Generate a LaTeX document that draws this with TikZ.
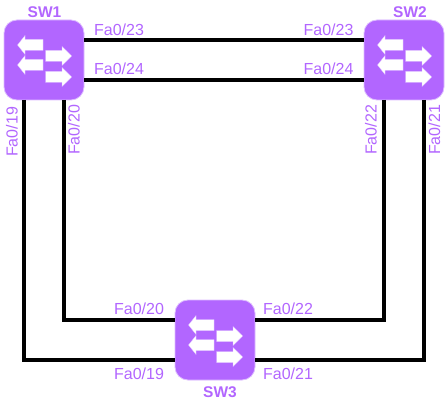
\documentclass[tikz,border=0pt]{standalone}
\usepackage{fontspec}
\setmainfont{Liberation Sans}
\definecolor{swpurple}{HTML}{B266FF}
\definecolor{swedge}{HTML}{DDBBFF}
\tikzset{
  x=1pt,y=1pt,
  switchbox/.style={draw=swedge,line width=0.8pt,fill=swpurple,rounded corners=13pt,minimum width=80pt,minimum height=80pt,inner sep=0pt,outer sep=0pt},
  link/.style={draw=black,line width=4pt},
  port/.style={text=swpurple,font=\fontsize{16}{16}\selectfont,inner sep=0pt},
  vport/.style={port,rotate=90},
  swname/.style={text=swpurple,font=\fontsize{15.5}{15.5}\selectfont\bfseries,inner sep=0pt},
  arrowL/.pic={\fill[white,draw=swedge,line width=0.25pt] (-26.5,0)--(-19,9.5)--(-19,5.5)--(-1,5.5)--(-1,-5.5)--(-19,-5.5)--(-19,-9.5)--cycle;},
  arrowR/.pic={\fill[white,draw=swedge,line width=0.25pt] (27.7,0)--(18,9.5)--(18,5.5)--(1.5,5.5)--(1.5,-5.5)--(18,-5.5)--(18,-9.5)--cycle;},
  switchicon/.pic={
    \pic at (0,15) {arrowL};
    \pic at (0,-5) {arrowL};
    \pic at (0,4) {arrowR};
    \pic at (0,-17) {arrowR};
  }
}
\begin{document}
\begin{tikzpicture}
\useasboundingbox (0,0) rectangle (445,-401);
\node[switchbox] (sw1) at (44,-60) {};
\node[switchbox] (sw2) at (404,-60) {};
\node[switchbox] (sw3) at (215,-340) {};
\draw[link] ([yshift=20pt]sw1.east) -- ([yshift=20pt]sw2.west);
\draw[link] ([yshift=-20pt]sw1.east) -- ([yshift=-20pt]sw2.west);
\draw[link] ([xshift=-20pt]sw1.south) |- ([yshift=-20pt]sw3.west);
\draw[link] ([xshift=20pt]sw1.south) |- ([yshift=20pt]sw3.west);
\draw[link] ([xshift=-20pt]sw2.south) |- ([yshift=20pt]sw3.east);
\draw[link] ([xshift=20pt]sw2.south) |- ([yshift=-20pt]sw3.east);
\pic at (sw1.center) {switchicon};
\pic at (sw2.center) {switchicon};
\pic at (sw3.center) {switchicon};
\node[swname] (n1) at (44.5,-12) {SW1};
\node[swname] (n2) at (410,-12) {SW2};
\node[swname] (n3) at (220,-392) {SW3};
\node[port] (a) at (119,-30) {Fa0/23};
\node[port] (b) at (119,-69) {Fa0/24};
\node[port] (c) at (328.5,-30) {Fa0/23};
\node[port] (d) at (328.5,-69) {Fa0/24};
\node[port] (e) at (139,-309) {Fa0/20};
\node[port] (f) at (288,-309) {Fa0/22};
\node[port] (g) at (139,-373.5) {Fa0/19};
\node[port] (h) at (288,-373.5) {Fa0/21};
\node[vport] (i) at (12,-132) {Fa0/19};
\node[vport] (j) at (74,-130) {Fa0/20};
\node[vport] (k) at (371,-130) {Fa0/22};
\node[vport] (l) at (434.5,-130) {Fa0/21};
\end{tikzpicture}
\end{document}
